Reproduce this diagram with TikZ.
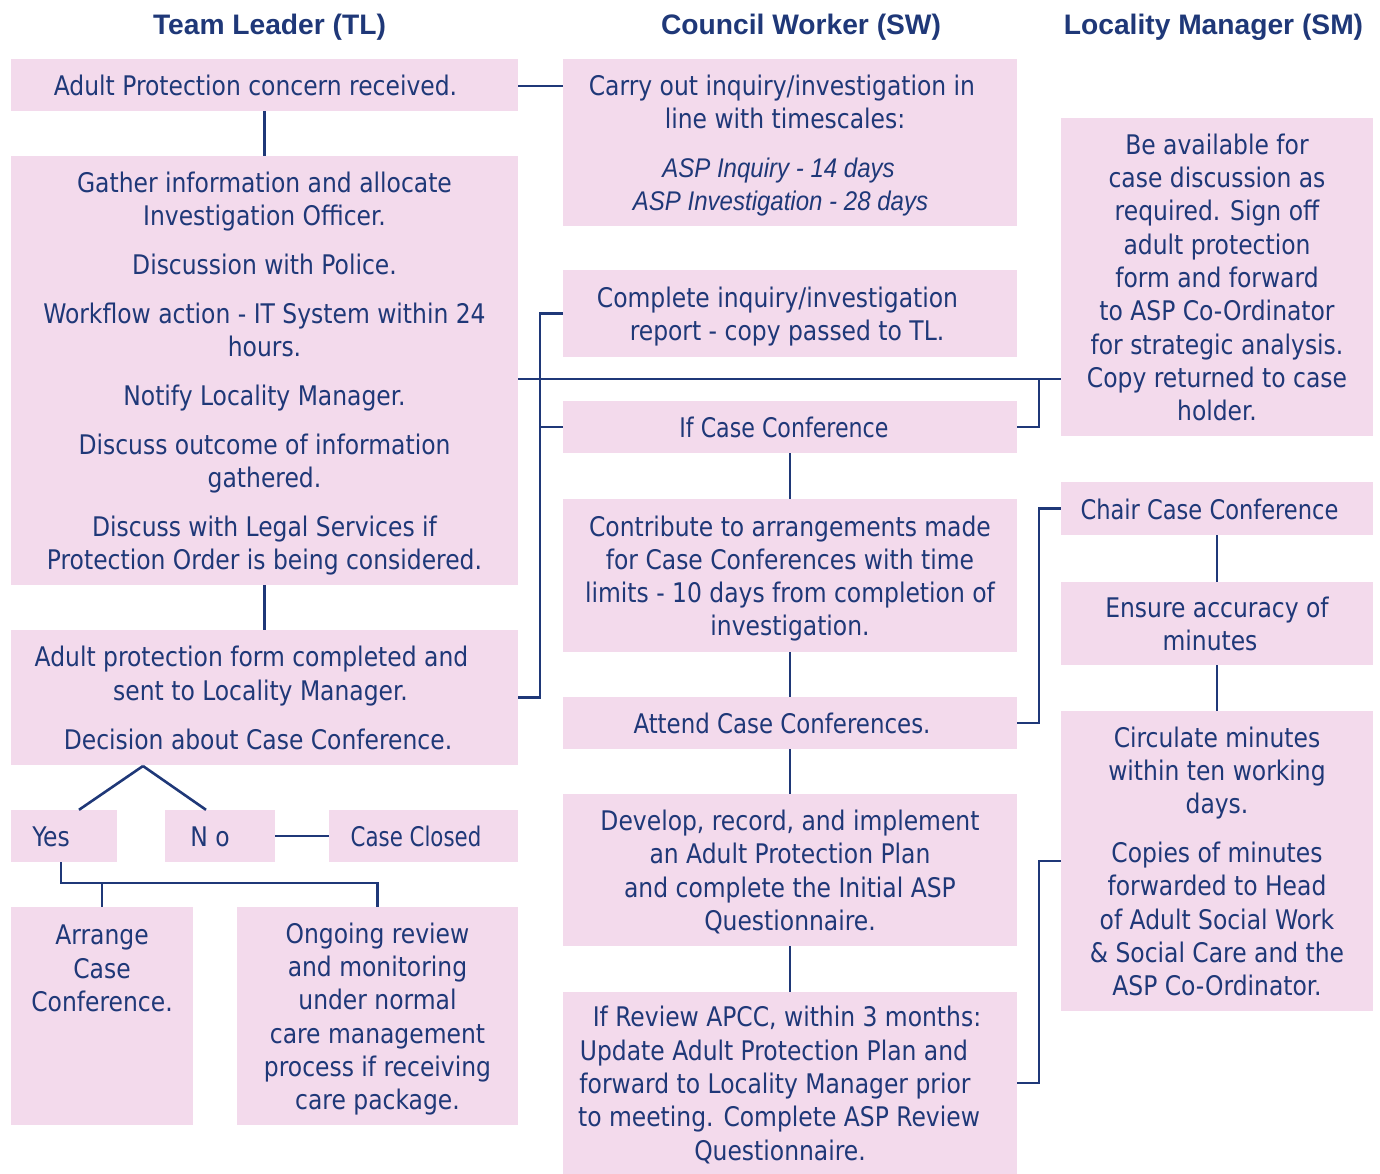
\documentclass[tikz,border=0pt]{standalone}
\usepackage{fontspec}
\usepackage{graphicx}
\setmainfont[FakeStretch=0.965]{DejaVu Sans Condensed}
\newfontfamily\hdfont{Liberation Sans}
\newfontfamily\aspfont[FakeStretch=0.89]{Liberation Sans}
\definecolor{boxpink}{RGB}{243,218,236}
\definecolor{navy}{RGB}{31,56,120}
\newcommand\mybody{\fontsize{27}{33.3}\selectfont}
\newcommand\nx[1]{\scalebox{#1}[1]}
\newcommand\topst{\rule{0pt}{29pt}}
\newcommand\botst{\rule[-8pt]{0pt}{8pt}}
\begin{document}
\begin{tikzpicture}[x=1pt,y=-1pt,
  box/.style={fill=boxpink, text=navy, align=center, inner sep=0pt, font=\mybody},
  txt/.style={text=navy, align=center, inner sep=0pt, font=\mybody},
  head/.style={text=navy, inner sep=0pt, font=\hdfont\bfseries\fontsize{28.2}{33}\selectfont, anchor=base},
  conn/.style={draw=navy, line width=2.6pt}]
\useasboundingbox (0,0) rectangle (1380,1173);

% headers
\node[head] (h1) at (269.5,34.5) {Team Leader (TL)};
\node[head] (h2) at (801,34.5) {Council Worker (SW)};
\node[head] (h3) at (1213.5,34.5) {Locality Manager (SM)};

% column 1
\node[box, minimum width=507, minimum height=52] (a) at (264.5,85) {\topst Adult Protection concern received.\kern18pt\botst};
\node[box, minimum width=507, minimum height=429] (b) at (264.5,370.5) {\topst Gather information and allocate\\Investigation Officer.\\[15.5pt]Discussion with Police.\\[15.5pt]Workflow action - IT System within 24\\hours.\\[15.5pt]Notify Locality Manager.\\[15.5pt]Discuss outcome of information\\gathered.\\[15.5pt]Discuss with Legal Services if\\Protection Order is being considered.\botst};
\node[box, minimum width=507, minimum height=135] (c) at (264.5,697.5) {\topst Adult protection form completed and\kern26pt\\sent to Locality Manager.\kern8pt\\[15.5pt]Decision about Case Conference.\kern13pt\botst};
\node[box, minimum width=106, minimum height=52] (yes) at (64,836) {\topst Yes\kern26pt\botst};
\node[box, minimum width=110, minimum height=52] (no) at (220,836) {\topst N o\kern20pt\botst};
\node[box, minimum width=189, minimum height=52] (closed) at (423.5,836) {\topst\nx{0.91}{Case Closed}\kern15pt\botst};
\node[box, minimum width=182, minimum height=218] (arr) at (102,1016) {};
\node[txt, anchor=north] (arrt) at (102,925) {Arrange\\Case\\Conference.};
\node[box, minimum width=281, minimum height=218] (ong) at (377.5,1016) {\topst Ongoing review\\and monitoring\\under normal\\care management\\process if receiving\\care package.\botst};

% column 2
\node[box, minimum width=454, minimum height=167] (carry) at (790,142.5) {\topst Carry out inquiry/investigation in\kern16pt\\line with timescales:\kern10pt\\[15pt]{\aspfont\itshape ASP Inquiry - 14 days}\kern23pt\\{\aspfont\itshape ASP Investigation - 28 days}\kern19pt\botst};
\node[box, minimum width=454, minimum height=87] (compl) at (790,313.5) {\topst Complete inquiry/investigation\kern25pt\\report - copy passed to TL.\kern6pt\botst};
\node[box, minimum width=454, minimum height=52] (ifcc) at (790,427) {\topst\nx{0.945}{If Case Conference}\kern12pt\botst};
\node[box, minimum width=454, minimum height=153] (contr) at (790,575.5) {\topst Contribute to arrangements made\\for Case Conferences with time\\limits - 10 days from completion of\\investigation.\botst};
\node[box, minimum width=454, minimum height=52] (att) at (790,723) {\topst\nx{0.977}{Attend Case Conferences.}\kern16pt\botst};
\node[box, minimum width=454, minimum height=152] (dev) at (790,870) {\topst Develop, record, and implement\\an Adult Protection Plan\\and complete the Initial ASP\\Questionnaire.\botst};
\node[box, minimum width=454, minimum height=182] (rev) at (790,1083) {\topst If Review APCC, within 3 months:\kern6pt\\Update Adult Protection Plan and\kern32pt\\forward to Locality Manager prior\kern30pt\\to meeting. Complete ASP Review\kern22pt\\Questionnaire.\kern20pt\botst};

% column 3
\node[box, minimum width=312, minimum height=318] (avail) at (1217,277) {\topst Be available for\\case discussion as\\required. Sign off\\adult protection\\form and forward\\to ASP Co-Ordinator\\for strategic analysis.\\Copy returned to case\\holder.\botst};
\node[box, minimum width=312, minimum height=53] (chair) at (1217,508.5) {\topst\nx{0.963}{Chair Case Conference}\kern15pt\botst};
\node[box, minimum width=312, minimum height=83] (ens) at (1217,623.5) {\topst Ensure accuracy of\\minutes\kern14pt\botst};
\node[box, minimum width=312, minimum height=300] (circ) at (1217,861) {\topst Circulate minutes\\within ten working\\days.\\[15.5pt]Copies of minutes\\forwarded to Head\\of Adult Social Work\\\& Social Care and the\\ASP Co-Ordinator.\botst};

% helper coordinates
\coordinate (sp) at (540,0);
\coordinate (rs) at (1039,0);
\coordinate (hl) at (0,379);
\coordinate (yb) at (0,883);
\coordinate (apex) at (143,766);

% connectors column 1
\draw[conn] (a.east |- 0,86) -- (carry.west |- 0,86);
\draw[conn] (a.south) -- (b.north);
\draw[conn] (b.south) -- (c.north);
\draw[conn] (b.east |- hl) -- (avail.west |- hl);
\draw[conn] (apex) -- ([xshift=15pt]yes.north);
\draw[conn] (apex) -- ([xshift=-14pt]no.north);
\draw[conn] (no.east) -- (closed.west);
\draw[conn] ([xshift=-3pt]yes.south) |- (ong.north |- yb) -- (ong.north);
\draw[conn] (arr.north) -- (arr.north |- yb);

% spine between TL and SW
\draw[conn] (compl.west) -- (compl.west -| sp) -- (c.east -| sp) -- (c.east);
\draw[conn] (ifcc.west) -- (ifcc.west -| sp);

% column 2 vertical chain
\draw[conn] (ifcc.south) -- (contr.north);
\draw[conn] (contr.south) -- (att.north);
\draw[conn] (att.south) -- (dev.north);
\draw[conn] (dev.south) -- (rev.north);

% SW to SM links
\draw[conn] (ifcc.east) -- (ifcc.east -| rs) -- (rs |- hl);
\draw[conn] (att.east) -- (att.east -| rs) -- (chair.west -| rs) -- (chair.west);
\draw[conn] (rev.east) -- (rev.east -| rs) -- (circ.west -| rs) -- (circ.west);

% column 3 chain
\draw[conn] (chair.south) -- (ens.north);
\draw[conn] (ens.south) -- (circ.north);
\end{tikzpicture}
\end{document}
